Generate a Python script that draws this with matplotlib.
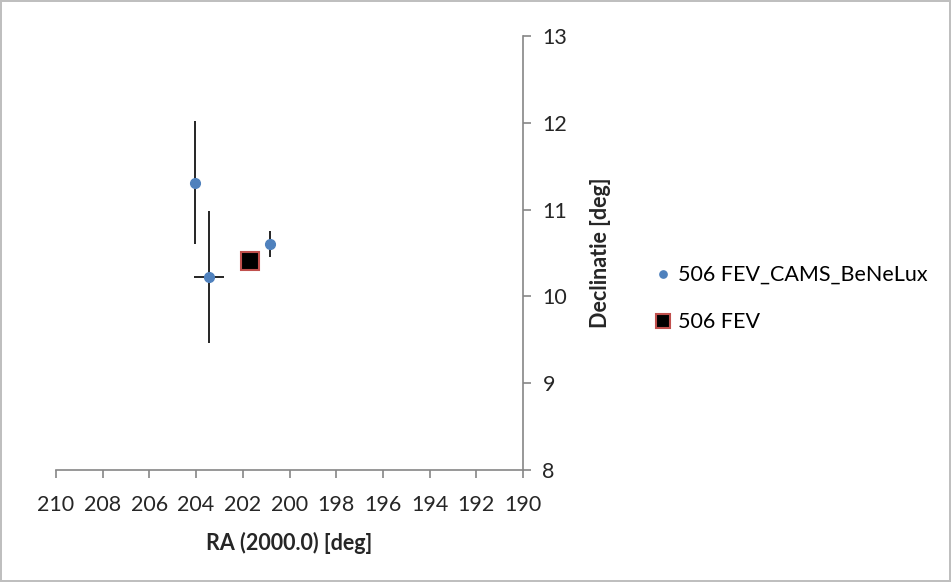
import numpy as np
import matplotlib.pyplot as plt

'''DATA'''
# CAMS BeNeLux meteors
ra_cams = [204.05, 203.45, 200.85]
dec_cams = [11.31, 10.22, 10.60]
ra_err = [0.0, 0.64, 0.0]
dec_err = [0.71, 0.76, 0.15]

# reference radiant
ra_ref = [201.68]
dec_ref = [10.41]

x_ticks = list(range(210, 189, -2))
y_ticks = [8, 9, 10, 11, 12, 13]

plt.rcParams['font.family'] = ['Lato', 'DejaVu Sans']
axis_grey = '#868686'

fig = plt.figure(figsize=(9.51, 5.82), dpi=100)
fig.patch.set_edgecolor('#bfbfbf')
fig.patch.set_linewidth(1.5)
ax = fig.add_axes([0.0589, 0.1924, 0.4911, 0.7456])

# error bars first, markers on top
ax.errorbar(ra_cams, dec_cams, xerr=ra_err, yerr=dec_err, fmt='none',
            ecolor='black', elinewidth=1.2, capsize=0)
h1, = ax.plot(ra_cams, dec_cams, 'o', color='#4f81bd', markersize=7,
              label='506 FEV_CAMS_BeNeLux')
h2, = ax.plot(ra_ref, dec_ref, 's', markersize=13, markerfacecolor='black',
              markeredgecolor='#c0504d', markeredgewidth=1.5, label='506 FEV')

ax.set_xlim(210, 190)
ax.set_ylim(8, 13)
ax.set_xticks(x_ticks)
ax.set_yticks(y_ticks)

# y axis sits on the right-hand side
ax.yaxis.tick_right()
ax.yaxis.set_label_position('right')
for s in ['left', 'top']:
    ax.spines[s].set_visible(False)
for s in ['right', 'bottom']:
    ax.spines[s].set_color(axis_grey)
    ax.spines[s].set_linewidth(1.2)
ax.tick_params(axis='both', colors=axis_grey, labelcolor='#262626', labelsize=15.5,
               length=6, width=1.2, direction='out')
ax.tick_params(axis='y', pad=8)
ax.tick_params(axis='x', pad=12)

ax.set_xlabel('RA (2000.0) [deg]', fontsize=15.5, fontweight='bold', color='#262626', labelpad=12)
ax.set_ylabel('Declinatie [deg]', fontsize=15.5, fontweight='bold', color='#262626', labelpad=16)

ax.legend(handles=[h1, h2], loc='center left', bbox_to_anchor=(1.245, 0.395), frameon=False,
          fontsize=15.5, handlelength=0.6, handletextpad=0.4, labelspacing=1.25,
          markerscale=0.75)

plt.savefig('out.png', dpi=100)
